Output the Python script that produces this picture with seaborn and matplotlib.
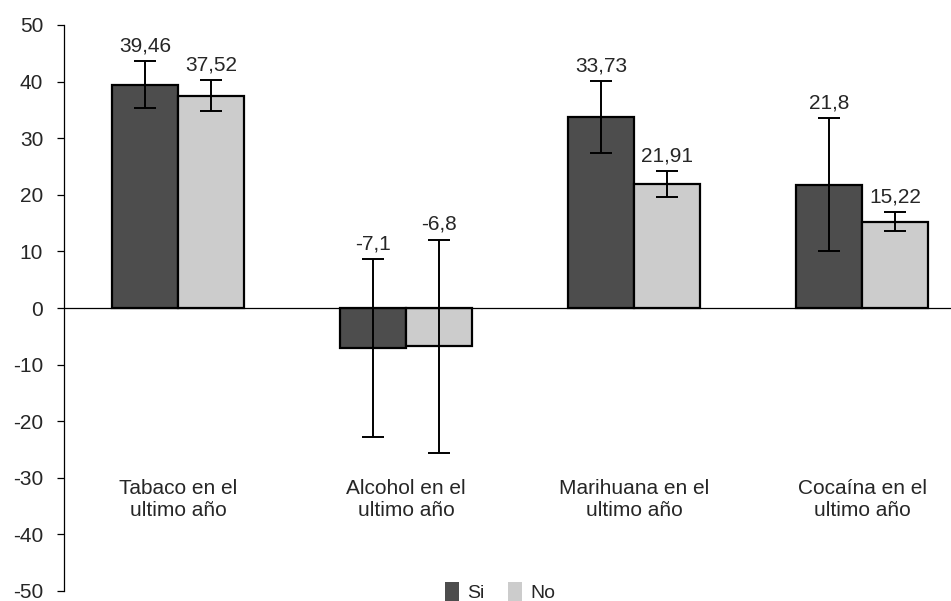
import pandas as pd
import seaborn as sns
import matplotlib.pyplot as plt
from matplotlib.patches import Patch

categorias = ['Tabaco en el\nultimo año', 'Alcohol en el\nultimo año',
              'Marihuana en el\nultimo año', 'Cocaína en el\nultimo año']
grupos = ['Si', 'No']
valores_si = [39.46, -7.1, 33.73, 21.8]
valores_no = [37.52, -6.8, 21.91, 15.22]
error_si = [4.1, 15.7, 6.4, 11.75]
error_no = [2.75, 18.9, 2.3, 1.7]
etiquetas_si = ['39,46', '-7,1', '33,73', '21,8']
etiquetas_no = ['37,52', '-6,8', '21,91', '15,22']
colores = ['#4d4d4d', '#cccccc']

df = pd.DataFrame({
    'categoria': categorias * 2,
    'grupo': ['Si'] * 4 + ['No'] * 4,
    'valor': valores_si + valores_no,
})

sns.set_style('white')
plt.rcParams['font.family'] = ['Liberation Sans', 'DejaVu Sans']
plt.rcParams['font.size'] = 15
plt.rcParams['axes.unicode_minus'] = False

fig = plt.figure(figsize=(9.51, 6.01), dpi=100)
ax = fig.add_axes([64 / 951, 10 / 601, 1 - 64 / 951, 566 / 601])

sns.barplot(data=df, x='categoria', y='valor', hue='grupo', hue_order=grupos,
            palette=colores, errorbar=None, width=0.58, gap=0,
            edgecolor='black', linewidth=1.6, ax=ax, legend=False)

# barras de error y etiquetas de valor
for cont, errs, vals, labs in zip(ax.containers, [error_si, error_no],
                                  [valores_si, valores_no],
                                  [etiquetas_si, etiquetas_no]):
    for bar, e, v, t in zip(cont, errs, vals, labs):
        xc = bar.get_x() + bar.get_width() / 2
        ax.errorbar(xc, v, yerr=e, fmt='none', ecolor='black',
                    elinewidth=1.4, capsize=8, capthick=1.4, zorder=5)
        ax.annotate(t, (xc, v + e), xytext=(0, 4), textcoords='offset points',
                    ha='center', va='bottom', fontsize=15)

ax.axhline(0, color='black', linewidth=0.9, zorder=1)
ax.set_ylim(-50, 50)
ax.set_xlim(-0.5, 3.39)
ax.set_yticks(range(-50, 51, 10))
ax.set_xticks([])
ax.set_xlabel('')
ax.set_ylabel('')
for s in ['top', 'right', 'bottom']:
    ax.spines[s].set_visible(False)
ax.spines['left'].set_color('black')
ax.spines['left'].set_linewidth(0.9)
ax.tick_params(axis='y', left=True, length=5, width=0.9, color='black',
               labelsize=15, pad=10)

for i, c in enumerate(categorias):
    ax.text(i, -30.2, c, ha='center', va='top', fontsize=15,
            linespacing=1.22)

handles = [Patch(facecolor=colores[0], edgecolor='none'),
           Patch(facecolor=colores[1], edgecolor='none')]
fig.legend(handles, grupos, loc='center', bbox_to_anchor=(500 / 951, 1 - 592 / 601),
           ncol=2, frameon=False, handlelength=0.75, handleheight=1.1,
           handletextpad=0.4, columnspacing=1.2, fontsize=14)

fig.savefig('out.png', dpi=100)
